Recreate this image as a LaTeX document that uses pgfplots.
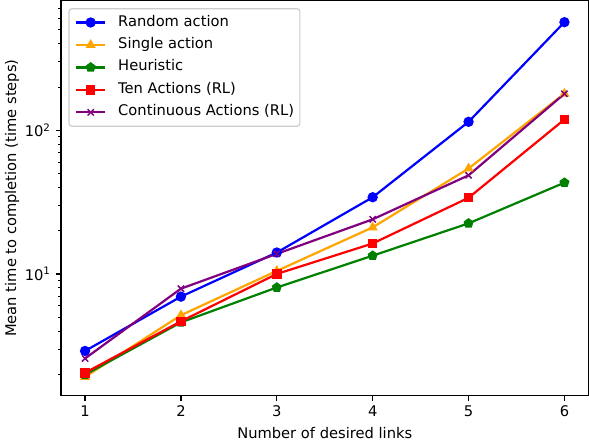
\documentclass[border=0pt]{standalone}
\usepackage{fontspec}
\setmainfont{DejaVu Sans}
\usepackage{pgfplots}
\pgfplotsset{compat=1.18}
\definecolor{mplorange}{RGB}{255,165,0}
\definecolor{mplgreen}{RGB}{0,128,0}
\definecolor{mplpurple}{RGB}{128,0,128}
\begin{document}
\begin{tikzpicture}
\begin{axis}[
  scale only axis,
  width=359pt, height=269pt,
  ymode=log,
  xmin=0.75, xmax=6.25, ymin=1.42, ymax=800,
  xtick={1,2,3,4,5,6},
  xticklabels={1,2,3,4,5,6},
  ytick={10,100},
  yticklabels={10\textsuperscript{1},10\textsuperscript{2}},
  minor ytick={2,3,4,5,6,7,8,9,20,30,40,50,60,70,80,90,200,300,400,500,600,700},
  tick align=outside, tick pos=left,
  major tick length=3.5pt, minor tick length=2pt,
  major tick style={black, line width=0.8pt},
  minor tick style={black, line width=0.6pt},
  axis line style={line width=0.8pt},
  ticklabel style={font=\fontsize{10}{12}\selectfont},
  label style={font=\fontsize{10}{12}\selectfont},
  xlabel={Number of desired links},
  ylabel={Mean time to completion (time steps)},
  ylabel style={yshift=-3pt},
  legend cell align=left,
  legend style={at={(0.0139,0.981)}, anchor=north west, draw=black!20, line width=0.8pt,
    rounded corners=2pt,
    font=\fontsize{10}{12}\selectfont, row sep=0pt, column sep=8pt,
    inner xsep=4pt, inner ysep=1.75pt,
    nodes={inner xsep=0pt, inner ysep=2.75pt, text height=7.3pt, text depth=2.5pt}},
  legend image code/.code={\draw[mark repeat=2,mark phase=2,#1] plot coordinates {(0pt,0pt) (10pt,0pt) (20pt,0pt)};},
  every axis plot/.append style={line width=1.5pt, mark size=3pt},
]
\addplot[blue, mark=*, mark options={line width=1pt}] coordinates {(1,2.91) (2,6.95) (3,14.1) (4,34.2) (5,114.6) (6,566)};
\addlegendentry{Random action}
\addplot[mplorange, mark=triangle*, mark options={line width=1pt}] coordinates {(1,1.92) (2,5.16) (3,10.5) (4,21.1) (5,54.2) (6,180)};
\addlegendentry{Single action}
\addplot[mplgreen, mark=pentagon*, mark options={line width=1pt}] coordinates {(1,1.99) (2,4.6) (3,8.05) (4,13.4) (5,22.5) (6,43.2)};
\addlegendentry{Heuristic}
\addplot[red, mark=square*, mark size=2.7pt, mark options={line width=1pt}] coordinates {(1,2.05) (2,4.68) (3,10.0) (4,16.3) (5,33.9) (6,119)};
\addlegendentry{Ten Actions (RL)}
\addplot[mplpurple, mark=x, mark options={line width=1pt}] coordinates {(1,2.58) (2,7.9) (3,13.8) (4,24.0) (5,48.6) (6,179.6)};
\addlegendentry{Continuous Actions (RL)}
\end{axis}
\end{tikzpicture}
\end{document}
